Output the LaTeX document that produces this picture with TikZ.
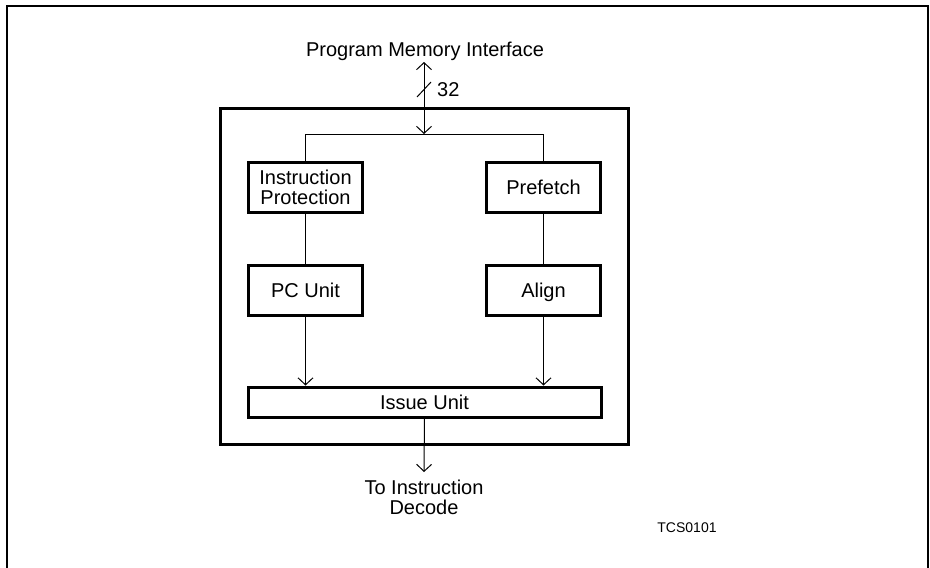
\documentclass[tikz,border=0pt]{standalone}
\usepackage{fontspec}
\setmainfont{Liberation Sans}
\usetikzlibrary{arrows.meta}
\begin{document}
\begin{tikzpicture}[x=1pt,y=-1pt,
  every node/.style={font=\fontsize{20}{20}\selectfont, inner sep=0pt},
  blk/.style={draw, line width=3pt, minimum width=114pt, minimum height=50pt, align=center},
  one/.style={text height=14pt, text depth=0pt},
  wire/.style={line width=1pt},
  arr/.style={wire, -{Straight Barb[length=7pt,width=15pt,line width=1pt]}},
  darr/.style={wire, {Straight Barb[length=7pt,width=15pt,line width=1pt]}-{Straight Barb[length=7pt,width=15pt,line width=1pt]}}
]
\useasboundingbox (0,0) rectangle (930,568);
% outer frame (open at bottom)
\draw[line width=2pt] (7,568) -- (7,6) -- (928,6) -- (928,568);
% main box
\draw[line width=3pt] (220,108) rectangle (628,444);
% blocks
\node[blk] (ip) at (305.5,187) {Instruction\\Protection};
\node[blk, one] (pf) at (543.5,187) {Prefetch};
\node[blk, one] (pc) at (305.5,290) {PC Unit};
\node[blk, one] (al) at (543.5,290) {Align};
\node[blk, one, minimum width=353pt, minimum height=30pt] (iu) at (424.5,402) {Issue Unit};
% texts
\node[one] (pmi) at (425,49) {Program Memory Interface};
\node[anchor=west] (w32) at (437,90) {32};
\node[align=center] (dec) at (424,497) {To Instruction\\Decode};
\node[font=\fontsize{14}{16}\selectfont] (tcs) at (687,528) {TCS0101};
% coordinates
\coordinate (bt) at (424,62);
\coordinate (bb) at (424,134);
\coordinate (jl) at (305.5,134);
\coordinate (jr) at (543.5,134);
\coordinate (out) at (424,472);
\coordinate (s1) at (417,97);
\coordinate (s2) at (431,82);
% connectors
\draw[darr] (bt) -- (bb);
\draw[wire] (s1) -- (s2);
\draw[wire] (ip.north) -- (jl) -- (jr) -- (pf.north);
\draw[wire] (ip.south) -- (pc.north);
\draw[wire] (pf.south) -- (al.north);
\draw[arr] (pc.south) -- (pc.south |- iu.north);
\draw[arr] (al.south) -- (al.south |- iu.north);
\draw[arr] (iu.south) -- (out);
\end{tikzpicture}
\end{document}
